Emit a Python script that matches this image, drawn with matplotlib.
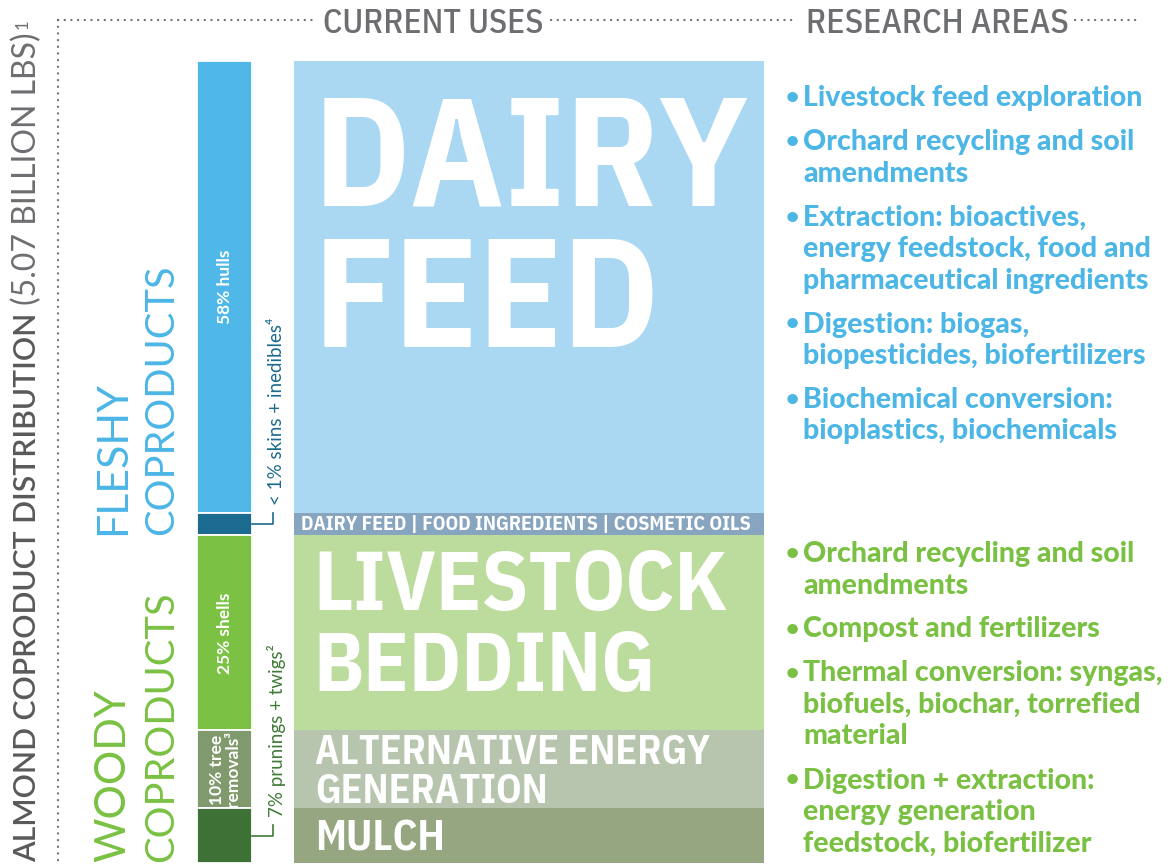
import numpy as np
import matplotlib.pyplot as plt

# almond coproducts, top to bottom, share of 5.07 billion lbs (%)
coproducts = ['hulls', 'skins + inedibles', 'shells', 'tree removals', 'prunings + twigs']
shares = np.array([58, 1, 25, 10, 7], dtype=float)
inside_labels = ['58% hulls', None, '25% shells', '10% tree\nremovals³', None]
side_labels = [None, '< 1% skins + inedibles⁴', None, None, '7% prunings + twigs²']
bar_colors = ['#50b8e8', '#1b6a8f', '#7bc143', '#809a6e', '#3e7135']

# current uses, one block per coproduct
use_lines = [['DAIRY', 'FEED'],
             ['DAIRY FEED | FOOD INGREDIENTS | COSMETIC OILS'],
             ['LIVESTOCK', 'BEDDING'],
             ['ALTERNATIVE ENERGY', 'GENERATION'],
             ['MULCH']]
use_colors = ['#aad8f2', '#88a5bf', '#bcdc9d', '#b8c5ae', '#95a681']

fleshy_research = [
    ['Livestock feed exploration'],
    ['Orchard recycling and soil', 'amendments'],
    ['Extraction: bioactives,', 'energy feedstock, food and', 'pharmaceutical ingredients'],
    ['Digestion: biogas,', 'biopesticides, biofertilizers'],
    ['Biochemical conversion:', 'bioplastics, biochemicals'],
]
woody_research = [
    ['Orchard recycling and soil', 'amendments'],
    ['Compost and fertilizers'],
    ['Thermal conversion: syngas,', 'biofuels, biochar, torrefied', 'material'],
    ['Digestion + extraction:', 'energy generation', 'feedstock, biofertilizer'],
]

BLUE = '#4cb6e6'
GREEN = '#7ac143'
GRAY = '#6d6e71'
DARK = '#58595b'
COND = ['IBM Plex Sans Condensed', 'DejaVu Sans']
LATO = ['Lato', 'DejaVu Sans']

W, H = 1172, 867
BAR_TOP, BAR_BOT = 61, 863
fig = plt.figure(figsize=(W / 100, H / 100), dpi=100)
renderer = fig.canvas.get_renderer()

# stacked bars in share units
shown = np.maximum(shares, 2.8)  # keep the <1% slice visible
total = shown.sum()
bottoms = np.concatenate([[0], np.cumsum(shown)[:-1]])
bx = fig.add_axes([0, (H - BAR_BOT) / H, 1, (BAR_BOT - BAR_TOP) / H])
bx.set_xlim(0, W)
bx.set_ylim(total, 0)
bx.axis('off')
bx.bar(np.full(len(shares), 224.5), shown, width=55, bottom=bottoms,
       color=bar_colors, edgecolor='white', linewidth=1.3)
bx.bar(np.full(len(shares), 528.5), shown, width=470, bottom=bottoms,
       color=use_colors, linewidth=0)

# overlay in pixel coords for the text
ax = fig.add_axes([0, 0, 1, 1], zorder=3)
ax.set_xlim(0, W)
ax.set_ylim(H, 0)
ax.axis('off')


def ypx(v):
    return BAR_TOP + v * (BAR_BOT - BAR_TOP) / total


def fit(t, target, vertical=False):
    bb = t.get_window_extent(renderer=renderer)
    cur = bb.height if vertical else bb.width
    t.set_fontsize(t.get_fontsize() * target / cur)
    return t.get_fontsize()


tops = ypx(bottoms)
ends = ypx(bottoms + shown)
mids = (tops + ends) / 2

# dotted frame
dots = dict(color='#6d6e71', lw=1.6, linestyle=(0, (0.1, 2.9)), dash_capstyle='round')
ax.plot([58, 58], [20, 862], **dots)
for x0, x1 in [(58, 314), (551, 795), (1075, 1140)]:
    ax.plot([x0, x1], [20, 20], **dots)

t = ax.text(323, 33, 'CURRENT USES', family=COND, weight='medium', color=GRAY,
            fontsize=24, va='baseline')
fit(t, 220)
t = ax.text(806, 33, 'RESEARCH AREAS', family=COND, weight='medium', color=GRAY,
            fontsize=24, va='baseline')
fit(t, 263)

# left title
t1 = ax.text(27, 862, 'ALMOND COPRODUCT DISTRIBUTION', rotation=90, ha='center', va='bottom',
             family=LATO, weight='semibold', color=DARK, fontsize=21)
fit(t1, 548, vertical=True)
y_end = ax.transData.inverted().transform((0, t1.get_window_extent(renderer=renderer).y1))[1]
t2 = ax.text(27, y_end - 8, '(5.07 BILLION LBS)', rotation=90, ha='center', va='bottom',
             family=LATO, weight='normal', color=GRAY, fontsize=21)
fit(t2, 272, vertical=True)
y_end = ax.transData.inverted().transform((0, t2.get_window_extent(renderer=renderer).y1))[1]
ax.text(23, y_end - 3, '1', rotation=90, ha='center', va='bottom',
        family=LATO, weight='normal', color=GRAY, fontsize=12)

# group titles
for (w1, w2), col, y0 in [(('FLESHY', 'COPRODUCTS'), BLUE, ends[1]),
                          (('WOODY', 'COPRODUCTS'), GREEN, 862)]:
    ax.text(113, y0, w1, rotation=90, ha='center', va='bottom', family=LATO,
            weight='normal', color=col, fontsize=31)
    t = ax.text(162, y0, w2, rotation=90, ha='center', va='bottom', family=LATO,
                weight='normal', color=col, fontsize=31)
    fit(t, 270, vertical=True)

# labels on and beside the bars
for i, lab in enumerate(inside_labels):
    if lab:
        ax.text(225, mids[i], lab, rotation=90, ha='center', va='center', family=LATO,
                weight='bold', color='white', fontsize=12.5, multialignment='center',
                linespacing=0.95)
for i, lab in enumerate(side_labels):
    if lab:
        col = bar_colors[i] if i == 1 else '#3f7a36'
        ax.plot([252, 273, 273], [mids[i], mids[i], mids[i] - 11], color=col, lw=1.2)
        ax.text(276, mids[i] - 19, lab, rotation=90, ha='center', va='bottom',
                family=LATO, color=col, fontsize=13.5)

# current uses text
dairy = ax.text(314, tops[0] + 145, use_lines[0][0], family=COND, weight='bold',
                color='white', fontsize=118, va='baseline')
fs = fit(dairy, 435)
ax.text(314, tops[0] + 286, use_lines[0][1], family=COND, weight='bold',
        color='white', fontsize=fs, va='baseline')

band = ax.text(301, ends[1] - 5, use_lines[1][0], family=COND, weight='bold',
               color='white', fontsize=14, va='baseline')
fit(band, 452)

live = ax.text(313, tops[2] + 75, use_lines[2][0], family=COND, weight='bold',
               color='white', fontsize=60, va='baseline')
fs = fit(live, 414)
ax.text(313, tops[2] + 156, use_lines[2][1], family=COND, weight='bold',
        color='white', fontsize=fs, va='baseline')

alt = ax.text(315, mids[3] - 5, use_lines[3][0], family=COND, weight='bold',
              color='white', fontsize=30, va='baseline')
fs = fit(alt, 395)
ax.text(315, mids[3] + 34, use_lines[3][1], family=COND, weight='bold',
        color='white', fontsize=fs, va='baseline')

mulch = ax.text(315, mids[4] + 15, use_lines[4][0], family=COND, weight='bold',
                color='white', fontsize=30, va='baseline')
fit(mulch, 130)

# research areas
probe = ax.text(803, 106, fleshy_research[0][0], family=LATO, weight='black',
                color=BLUE, fontsize=19, va='baseline')
rfs = fit(probe, 338)
probe.remove()

LINE, GAP = 31.5, 44
for items, col, y in [(fleshy_research, BLUE, 106), (woody_research, GREEN, 562)]:
    for lines in items:
        ax.text(792, y - 2, '•', family=LATO, weight='black', color=col, fontsize=rfs * 0.8,
                ha='center', va='baseline')
        for k, line in enumerate(lines):
            ax.text(803, y + k * LINE, line, family=LATO, weight='black', color=col,
                    fontsize=rfs, va='baseline')
        y += (len(lines) - 1) * LINE + GAP

fig.savefig('out.png', dpi=100, facecolor='white')
